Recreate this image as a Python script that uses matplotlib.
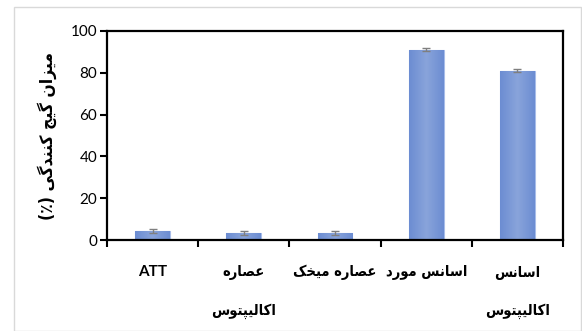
import matplotlib
matplotlib.use("Agg")
import matplotlib.pyplot as plt
import numpy as np
from matplotlib.patches import Rectangle
from matplotlib.colors import LinearSegmentedColormap

# Data
categories = ["ATT", "عصاره\nاکالیپتوس", "عصاره میخک", "اسانس مورد", "اسانس\nاکالیپتوس"]
values = [4.3, 3.2, 3.2, 91.0, 81.0]
errors = [1.0, 1.0, 1.0, 0.8, 0.8]
y_ticks = [0, 20, 40, 60, 80, 100]
y_label = "میزان گیج کنندگی (٪)"

# Contextual forms (isolated, final, initial, medial) for the letters in use
FORMS = {
    "\u0627": (0xFE8D, 0xFE8E, None, None),
    "\u0628": (0xFE8F, 0xFE90, 0xFE91, 0xFE92),
    "\u062A": (0xFE95, 0xFE96, 0xFE97, 0xFE98),
    "\u062C": (0xFE9D, 0xFE9E, 0xFE9F, 0xFEA0),
    "\u062E": (0xFEA5, 0xFEA6, 0xFEA7, 0xFEA8),
    "\u062F": (0xFEA9, 0xFEAA, None, None),
    "\u0631": (0xFEAD, 0xFEAE, None, None),
    "\u0632": (0xFEAF, 0xFEB0, None, None),
    "\u0633": (0xFEB1, 0xFEB2, 0xFEB3, 0xFEB4),
    "\u0635": (0xFEB9, 0xFEBA, 0xFEBB, 0xFEBC),
    "\u0639": (0xFEC9, 0xFECA, 0xFECB, 0xFECC),
    "\u0644": (0xFEDD, 0xFEDE, 0xFEDF, 0xFEE0),
    "\u0645": (0xFEE1, 0xFEE2, 0xFEE3, 0xFEE4),
    "\u0646": (0xFEE5, 0xFEE6, 0xFEE7, 0xFEE8),
    "\u0647": (0xFEE9, 0xFEEA, 0xFEEB, 0xFEEC),
    "\u0648": (0xFEED, 0xFEEE, None, None),
    "\u067E": (0xFB56, 0xFB57, 0xFB58, 0xFB59),
    "\u06A9": (0xFB8E, 0xFB8F, 0xFB90, 0xFB91),
    "\u06AF": (0xFB92, 0xFB93, 0xFB94, 0xFB95),
    "\u06CC": (0xFBFC, 0xFBFD, 0xFBFE, 0xFBFF),
}


def _is_arabic(c):
    return "\u0600" <= c <= "\u06FF"


def _dual(c):
    return c in FORMS and FORMS[c][2] is not None


def shape_line(text):
    """Join Persian letters and put the line in visual (left-to-right) order."""
    if not any(_is_arabic(c) for c in text):
        return text
    out = []
    n = len(text)
    for i, c in enumerate(text):
        if c not in FORMS:
            out.append(c)
            continue
        iso, fin, ini, med = FORMS[c]
        prev = text[i - 1] if i > 0 else ""
        nxt = text[i + 1] if i + 1 < n else ""
        link_prev = _dual(prev)
        link_next = ini is not None and nxt in FORMS
        if link_prev and link_next:
            code = med
        elif link_prev:
            code = fin
        elif link_next:
            code = ini
        else:
            code = iso
        out.append(chr(code))
    return "".join(out)[::-1].translate(str.maketrans("()", ")("))


def shape(text):
    return "\n".join(shape_line(line) for line in text.split("\n"))


W, H = 582, 331
fig = plt.figure(figsize=(W / 100, H / 100), dpi=100)
fig.patch.set_facecolor("white")

# Light frame around the chart area
fig.add_artist(Rectangle((14 / W, 0.0), (581 - 14) / W, (331 - 7) / H,
                         transform=fig.transFigure, fill=False,
                         edgecolor="#D9D9D9", linewidth=1.0))

ax = fig.add_axes([107 / W, 91 / H, (563 - 107) / W, (240 - 31) / H])

x = np.arange(len(categories))
bars = ax.bar(x, values, width=0.38, color="#7C9AD8", edgecolor="#A8BDE9",
              linewidth=0.8, zorder=2)

# Horizontal shading inside each bar
cmap = LinearSegmentedColormap.from_list(
    "barshade", ["#6C8DD2", "#89A4DB", "#6C8DD2"])
grad = np.linspace(0, 1, 64).reshape(1, -1)
for b in bars:
    bx, bw, bh = b.get_x(), b.get_width(), b.get_height()
    im = ax.imshow(grad, cmap=cmap, aspect="auto",
                   extent=(bx, bx + bw, 0, bh), zorder=2.1,
                   interpolation="bicubic")
    im.set_clip_path(b)

ax.errorbar(x, values, yerr=errors, fmt="none", ecolor="#7F7F7F",
            elinewidth=1.0, capsize=3, capthick=1.0, zorder=3)

ax.set_xlim(-0.5, len(categories) - 0.5)
ax.set_ylim(0, 100)
ax.set_yticks(y_ticks)
ax.set_yticklabels([str(v) for v in y_ticks], fontfamily="Lato", fontsize=11)

for side in ["left", "right", "top", "bottom"]:
    ax.spines[side].set_linewidth(1.6)
    ax.spines[side].set_color("black")

ax.tick_params(axis="y", direction="out", length=5, width=1.5, pad=2)

# Category labels on major ticks, tick marks on category boundaries
ax.set_xticks(x)
ax.set_xticklabels([shape(c) for c in categories])
for lbl, c in zip(ax.get_xticklabels(), categories):
    lbl.set_fontweight("bold")
    lbl.set_linespacing(2.9)
    if any(_is_arabic(ch) for ch in c):
        lbl.set_fontfamily(["DejaVu Sans"])
        lbl.set_fontstretch("condensed")
        lbl.set_fontsize(10.5)
    else:
        lbl.set_fontfamily(["Lato"])
        lbl.set_fontsize(11)
ax.tick_params(axis="x", which="major", length=0, pad=18)
ax.set_xticks(np.arange(-0.5, len(categories), 1.0), minor=True)
ax.tick_params(axis="x", which="minor", direction="out", length=5, width=1.5)

ax.set_ylabel(shape(y_label), fontfamily=["DejaVu Sans"], fontweight="bold",
              fontstretch="condensed", fontsize=12.5, labelpad=10)

fig.savefig("out.png", dpi=100)
